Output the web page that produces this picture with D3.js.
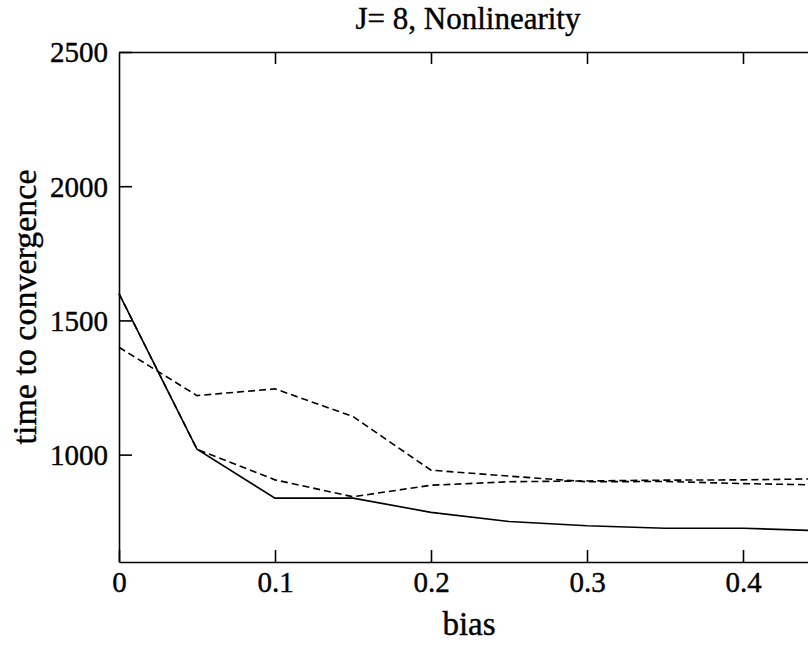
<!DOCTYPE html>
<html>
<head>
<meta charset="utf-8">
<script src="https://cdn.jsdelivr.net/npm/d3@7"></script>
<style>
  body { margin: 0; background: #fff; }
  svg text { font-family: "Liberation Serif", "Times New Roman", serif; fill: #000; stroke: #000; stroke-width: 0.4px; }
</style>
</head>
<body>
<svg id="chart"></svg>
<script>
// values
const bias = [0, 0.05, 0.1, 0.15, 0.2, 0.25, 0.3, 0.35, 0.4, 0.45];
const solidSeries = [1600, 1020, 838, 838, 785, 751, 735, 726, 726, 716];
const dashedUpper = [1400, 1220, 1245, 1142, 942, 920, 899, 900, 892, 887];
const dashedLower = [1600, 1020, 906, 843, 886, 899, 902, 905, 906, 910];
const xTicks = [0, 0.1, 0.2, 0.3, 0.4];
const yTicks = [1000, 1500, 2000, 2500];
const title = "J= 8,  Nonlinearity";
const xLabel = "bias";
const yLabel = "time to convergence";

const width = 808, height = 659;
const margin = { top: 52, right: -13, bottom: 97, left: 119 };

const svg = d3.select("#chart")
  .attr("width", width)
  .attr("height", height);

const xScale = d3.scaleLinear()
  .domain([0, 0.45])
  .range([margin.left, width - margin.right]);

const yScale = d3.scaleLinear()
  .domain([600, 2500])
  .range([height - margin.bottom, margin.top]);

const fmtX = d => d === 0 ? "0" : d3.format(".1f")(d);

// axes, ticks pointing into the box
const xAxis = d3.axisBottom(xScale).tickValues(xTicks).tickFormat(fmtX)
  .tickSizeInner(-12).tickSizeOuter(0).tickPadding(9);
const yAxis = d3.axisLeft(yScale).tickValues(yTicks).tickFormat(d3.format("d"))
  .tickSizeInner(-13).tickSizeOuter(0).tickPadding(11);
const xTop = d3.axisTop(xScale).tickValues(xTicks.slice(1)).tickFormat("")
  .tickSizeInner(-12).tickSizeOuter(0);
const yRight = d3.axisRight(yScale).tickValues(yTicks.slice(0, 3)).tickFormat("")
  .tickSizeInner(-13).tickSizeOuter(0);

const styleAxis = g => {
  g.selectAll("path, line").attr("stroke", "#000").attr("stroke-width", 1.6);
  g.selectAll("text").style("font-size", "29px").attr("fill", "#000");
};

svg.append("g")
  .attr("transform", `translate(0,${yScale.range()[0]})`)
  .call(xAxis).call(styleAxis);

svg.append("g")
  .attr("transform", `translate(${xScale.range()[0]},0)`)
  .call(yAxis).call(styleAxis)
  .selectAll("text").attr("dy", "0.34em");

svg.append("g")
  .attr("transform", `translate(0,${yScale.range()[1]})`)
  .call(xTop).call(styleAxis);

svg.append("g")
  .attr("transform", `translate(${xScale.range()[1]},0)`)
  .call(yRight).call(styleAxis);

// the three curves
const line = d3.line()
  .x((d, i) => xScale(bias[i]))
  .y(d => yScale(d));

const series = [
  { values: dashedLower, dash: "7,4" },
  { values: dashedUpper, dash: "7,4" },
  { values: solidSeries, dash: null }
];

svg.append("g").selectAll("path")
  .data(series)
  .join("path")
  .attr("fill", "none")
  .attr("stroke", "#000")
  .attr("stroke-width", 1.6)
  .attr("stroke-dasharray", d => d.dash)
  .attr("d", d => line(d.values));

// titles
svg.append("text")
  .attr("x", 468)
  .attr("y", 29)
  .attr("text-anchor", "middle")
  .style("font-size", "31px")
  .text(title);

svg.append("text")
  .attr("x", 469)
  .attr("y", 635)
  .attr("text-anchor", "middle")
  .style("font-size", "33px")
  .text(xLabel);

svg.append("text")
  .attr("transform", "translate(36,307) rotate(-90)")
  .attr("text-anchor", "middle")
  .style("font-size", "34px")
  .text(yLabel);
</script>
</body>
</html>
